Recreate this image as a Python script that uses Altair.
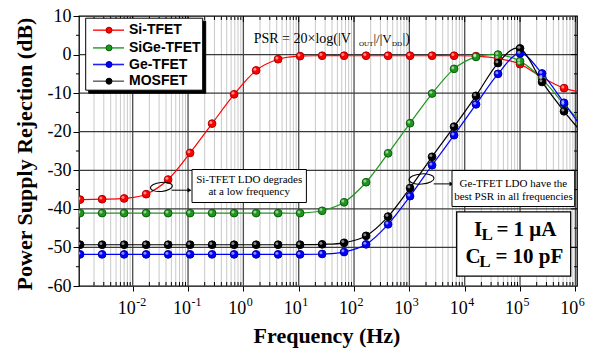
import altair as alt
import pandas as pd

# ---------------- data ----------------
freq = [0.00112, 0.0028, 0.0070, 0.0175, 0.0437, 0.109, 0.272, 0.68, 1.70, 4.24,
        10.6, 26.5, 66.1, 165, 412, 1029, 2570, 6420, 16000, 40000,
        100000, 250000, 624000, 1557000]

si_tfet = [-37.6, -37.5, -37.3, -36.2, -32.4, -25.5, -17.9, -10.3, -4.1, -1.2,
           -0.4, -0.3, -0.3, -0.3, -0.3, -0.3, -0.3, -0.3, -0.4, -1.0,
           -2.5, -5.9, -8.7, -9.9]
sige_tfet = [-41.1, -41.1, -41.1, -41.1, -41.1, -41.1, -41.1, -41.1, -41.1, -41.1,
             -41.1, -40.5, -38.3, -33.1, -25.6, -17.8, -10.1, -3.7, -0.6, 0.0,
             -1.7, -6.3, -12.9, -18.8]
ge_tfet = [-51.8, -51.8, -51.8, -51.8, -51.8, -51.8, -51.8, -51.8, -51.8, -51.8,
           -51.8, -51.7, -51.2, -49.2, -44.0, -36.7, -28.7, -20.9, -12.9, -5.0,
           0.3, -4.9, -12.5, -20.5]
mosfet = [-49.3, -49.3, -49.3, -49.3, -49.3, -49.3, -49.3, -49.3, -49.3, -49.3,
          -49.3, -49.2, -48.8, -47.0, -42.0, -34.6, -26.5, -18.7, -10.7, -2.2,
          1.6, -7.1, -14.7, -21.5]

series_names = ["Si-TFET", "SiGe-TFET", "Ge-TFET", "MOSFET"]
series_values = [si_tfet, sige_tfet, ge_tfet, mosfet]
line_colors = ["#ff0000", "#1e961e", "#0000ff", "#000000"]
marker_strokes = ["#b00000", "#0b5e0b", "#00009a", "#000000"]
legend_line_colors = ["#ff2a2a", "#3aa63a", "#2020ff", "#6e6e6e"]

decades = [0.01, 0.1, 1, 10, 100, 1000, 10000, 100000, 1000000]
decade_exps = ["-2", "-1", "0", "1", "2", "3", "4", "5", "6"]
y_ticks = [-60, -50, -40, -30, -20, -10, 0, 10]
y_minor = [-55, -45, -35, -25, -15, -5, 5]
h_grid = [-50, -40, -30, -20, -10, 0]
minor_mult = [2, 3, 4, 5, 6, 7, 8, 9]
minor_decades = [0.001, 0.01, 0.1, 1, 10, 100, 1000, 10000, 100000]

SERIF = "Liberation Serif"
SANS = "Liberation Sans"
W, H = 498, 270
X_DOMAIN = [0.00107, 1070000]
Y_DOMAIN = [-60, 10]

rows = []
for name, vals in zip(series_names, series_values):
    for f, v in zip(freq, vals):
        rows.append({"freq": f, "psr": v, "series": name})
df = pd.DataFrame(rows)

minor_x = [m * d for d in minor_decades for m in minor_mult]
minor_x = [v for v in minor_x if X_DOMAIN[0] < v < X_DOMAIN[1]]
df_minor = pd.DataFrame({"f": minor_x})
df_dec = pd.DataFrame({"f": decades, "e": decade_exps, "t": ["10"] * len(decades)})
df_hgrid = pd.DataFrame({"v": h_grid})
df_ymaj = pd.DataFrame({"v": [-50, -40, -30, -20, -10, 0]})
df_ymin = pd.DataFrame({"v": y_minor})
one = pd.DataFrame({"a": [0]})

xs = alt.Scale(type="log", domain=X_DOMAIN, nice=False)
ys = alt.Scale(domain=Y_DOMAIN, nice=False, zero=False)
cscale = alt.Scale(domain=series_names, range=line_colors)
sscale = alt.Scale(domain=series_names, range=marker_strokes)

x_axis = alt.Axis(values=decades, labels=False, grid=False, domain=False,
                  tickSize=5, tickColor="black", tickWidth=1, title=None)
y_axis = alt.Axis(values=y_ticks, grid=False, domain=False, tickSize=6,
                  tickColor="black", tickWidth=1, labelFont=SERIF,
                  labelFontSize=18, labelColor="black", labelPadding=2,
                  labelOverlap=False, labelFlush=False, labelBaseline="middle",
                  labelExpr="datum.value < 0 ? '-' + abs(datum.value) : '' + datum.value",
                  title=None)


def X(field):
    return alt.X(field, scale=xs, axis=x_axis)


def Y(field):
    return alt.Y(field, scale=ys, axis=y_axis)


# ---------------- data marks ----------------
base = alt.Chart(df).encode(x=X("freq:Q"), y=Y("psr:Q"), detail="series:N")
lines = base.mark_line(interpolate="cardinal", strokeWidth=1.2, clip=True).encode(
    color=alt.Color("series:N", scale=cscale, legend=None))
points = base.mark_point(filled=True, size=60, strokeWidth=1, opacity=1, clip=True).encode(
    fill=alt.Fill("series:N", scale=cscale, legend=None),
    stroke=alt.Stroke("series:N", scale=sscale, legend=None))
highlight = base.mark_point(filled=True, size=9, opacity=0.55, color="white", clip=True,
                            xOffset=-1.2, yOffset=-1.2)

# ---------------- grid ----------------
grid_minor = alt.Chart(df_minor).mark_rule(color="#c9c9c9", strokeWidth=1, clip=True).encode(
    x=X("f:Q"), y=alt.value(0), y2=alt.value(H))
grid_major_v = alt.Chart(df_dec).mark_rule(color="#4d4d4d", strokeWidth=1.3, clip=True).encode(
    x=X("f:Q"), y=alt.value(0), y2=alt.value(H))
grid_major_h = alt.Chart(df_hgrid).mark_rule(color="#3a3a3a", strokeWidth=1.3, clip=True).encode(
    y=Y("v:Q"), x=alt.value(0), x2=alt.value(W))

# ---------------- extra ticks ----------------
tick_bottom_minor = alt.Chart(df_minor).mark_rule(color="black").encode(
    x=X("f:Q"), y=alt.value(H - 4), y2=alt.value(H))
tick_top_minor = alt.Chart(df_minor).mark_rule(color="black").encode(
    x=X("f:Q"), y=alt.value(0), y2=alt.value(4))
tick_top_major = alt.Chart(df_dec).mark_rule(color="black").encode(
    x=X("f:Q"), y=alt.value(0), y2=alt.value(6))
tick_left_minor = alt.Chart(df_ymin).mark_rule(color="black").encode(
    y=Y("v:Q"), x=alt.value(-3), x2=alt.value(0))
tick_right_minor = alt.Chart(df_ymin).mark_rule(color="black").encode(
    y=Y("v:Q"), x=alt.value(W - 3), x2=alt.value(W))
tick_right_major = alt.Chart(df_ymaj).mark_rule(color="black").encode(
    y=Y("v:Q"), x=alt.value(W - 6), x2=alt.value(W))

# ---------------- x tick labels with superscripts ----------------
xlab_base = alt.Chart(df_dec).encode(x=X("f:Q"))
xlab_10 = xlab_base.mark_text(font=SERIF, fontSize=18, align="right", baseline="alphabetic",
                              dx=3, color="black").encode(y=alt.value(298), text="t:N")
xlab_exp = xlab_base.mark_text(font=SERIF, fontSize=12, align="left", baseline="alphabetic",
                               dx=3.5, color="black").encode(y=alt.value(290), text="e:N")


# ---------------- helpers for decorations ----------------
def vtext(txt, x, y, size, bold=False, font=SERIF, align="left", angle=0, baseline="alphabetic"):
    kw = dict(text=txt, font=font, fontSize=size, align=align, baseline=baseline, color="black")
    if bold:
        kw["fontWeight"] = "bold"
    if angle:
        kw["angle"] = angle
    return alt.Chart(one).mark_text(**kw).encode(x=alt.value(x), y=alt.value(y))


def vrect(x1, y1, x2, y2, fill="white", stroke="black", sw=1):
    return alt.Chart(one).mark_rect(fill=fill, stroke=stroke, strokeWidth=sw).encode(
        x=alt.value(x1), x2=alt.value(x2), y=alt.value(y1), y2=alt.value(y2))


def vrule(x1, y1, x2, y2, color="black", sw=1):
    return alt.Chart(one).mark_rule(color=color, strokeWidth=sw).encode(
        x=alt.value(x1), x2=alt.value(x2), y=alt.value(y1), y2=alt.value(y2))


ELLIPSE = ("M -1 0 C -1 -0.226 -0.552 -0.41 0 -0.41 C 0.552 -0.41 1 -0.226 1 0 "
           "C 1 0.226 0.552 0.41 0 0.41 C -0.552 0.41 -1 0.226 -1 0 Z")


def vellipse(x, y, w, angle=0):
    return alt.Chart(one).mark_point(shape=ELLIPSE, size=w * w, filled=False, stroke="black",
                                     strokeWidth=1, angle=angle, opacity=1).encode(
        x=alt.value(x), y=alt.value(y))


def varrowhead(x, y):
    return alt.Chart(one).mark_point(shape="triangle-right", size=22, filled=True,
                                     color="black", opacity=1).encode(x=alt.value(x), y=alt.value(y))


deco = []
# axis titles
deco.append(vtext("Power Supply Rejection (dB)", -54, 138, 22, bold=True, align="center",
                  angle=270, baseline="middle"))
deco.append(vtext("Frequency (Hz)", 248, 327, 22, bold=True, align="center"))

# PSR formula
deco += [
    vtext("PSR = 20×log(|V", 174.7, 26.5, 14),
    vtext("OUT", 280.0, 29.5, 7),
    vtext("|/|V", 294.5, 26.5, 13),
    vtext("DD", 313.0, 29.5, 7),
    vtext("|)", 323.5, 26.5, 14),
]

# annotation 1
deco += [
    vellipse(82.4, 170.9, 22, angle=354),
    vrule(92.7, 174.2, 109, 174.2),
    varrowhead(110.5, 174.2),
    vrect(113.0, 153.5, 227.4, 186.5),
    vtext("Si-TFET LDO degrades", 170.2, 166.7, 11, align="center"),
    vtext("at a low frequency", 170.2, 178.6, 11, align="center"),
]
# annotation 2
deco += [
    vellipse(342.5, 163.0, 25, angle=356),
    vrule(354.7, 167.9, 371, 167.9),
    varrowhead(372.5, 167.9),
    vrect(373.0, 154.5, 495.7, 190.5),
    vtext("Ge-TFET LDO have the", 434.4, 171.2, 11, align="center"),
    vtext("best PSR in all frequencies", 434.4, 183.9, 11, align="center"),
]
# condition box
deco += [
    vrect(377.7, 195.9, 491.7, 260.2, sw=1.3),
    vtext("I", 395.0, 220.2, 21, bold=True),
    vtext("L", 402.4, 224.2, 17, bold=True),
    vtext("= 1 μA", 417.4, 220.2, 21, bold=True),
    vtext("C", 386.4, 246.9, 21, bold=True),
    vtext("L", 400.2, 250.9, 17, bold=True),
    vtext("= 10 pF", 416.4, 246.9, 21, bold=True),
]

# legend (drawn manually: line + marker + bold label)
deco.append(vrect(9.7, 5.2, 126.7, 77.2, fill="black", stroke="black"))
deco.append(vrect(6.7, 2.2, 123.7, 74.2))
legend_rows = [14.2, 31.9, 48.5, 65.2]
for name, lc, fc, sc, ry in zip(series_names, legend_line_colors, line_colors, marker_strokes, legend_rows):
    deco.append(vrule(14.0, ry, 45.0, ry, color=lc, sw=1.6))
    deco.append(alt.Chart(one).mark_point(filled=True, size=36, fill=fc, stroke=sc, strokeWidth=1,
                                          opacity=1).encode(x=alt.value(30.0), y=alt.value(ry)))
    deco.append(vtext(name, 50.0, ry, 14, bold=True, font=SANS, baseline="middle"))

layers = [grid_minor, grid_major_v, grid_major_h,
          tick_bottom_minor, tick_top_minor, tick_top_major,
          tick_left_minor, tick_right_minor, tick_right_major,
          lines, points, highlight, xlab_10, xlab_exp] + deco

chart = alt.layer(*layers).properties(
    width=W, height=H,
    autosize=alt.AutoSizeParams(type="none"),
    padding={"left": 79, "top": 16, "right": 19, "bottom": 63},
    background="white",
).configure_view(stroke="black", strokeWidth=1.3)

chart.save("out.html", embed_options={"renderer": "svg", "actions": False})
